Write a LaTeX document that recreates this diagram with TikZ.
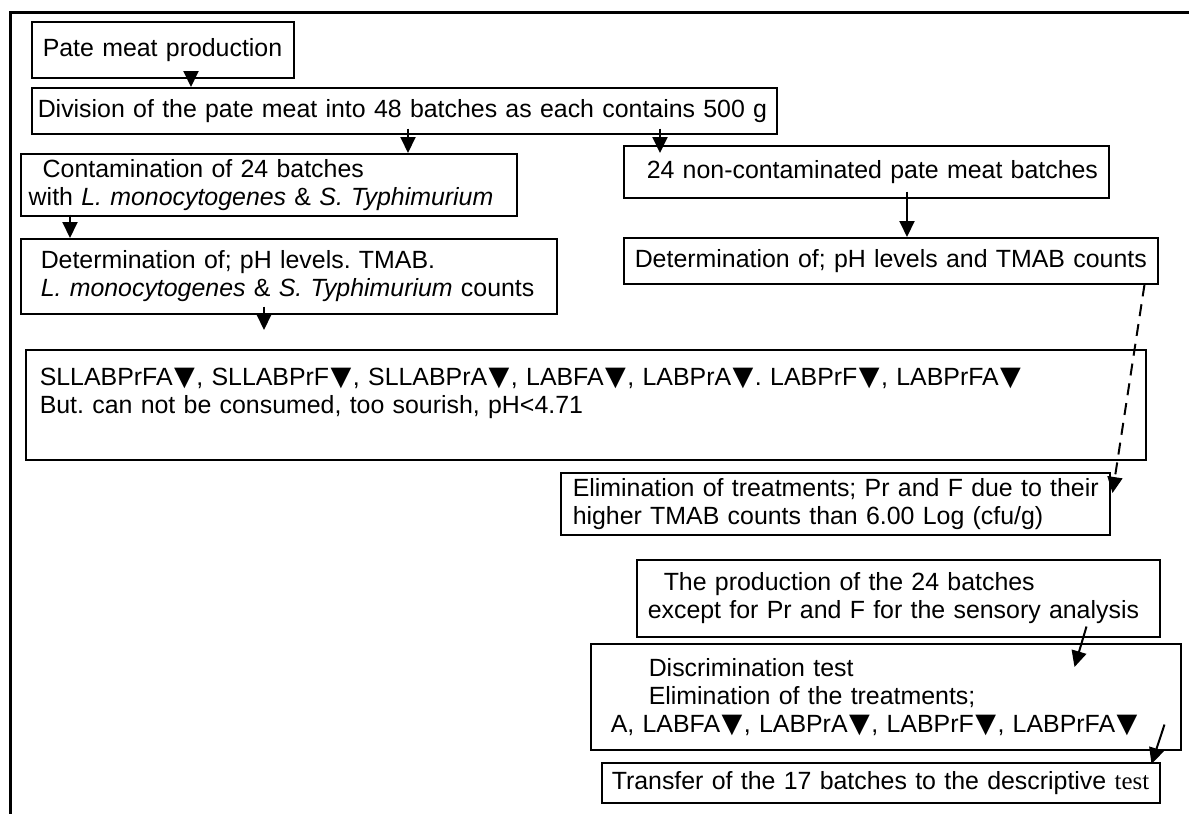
\documentclass[tikz,border=0pt]{standalone}
\usepackage{fontspec}
\setmainfont{Liberation Sans}
\newfontfamily\serifft{Liberation Serif}
\newfontfamily\symft{DejaVu Sans}
\newcommand\tridown{\hspace{0.06em}{\symft\fontsize{13.5}{14}\selectfont ▼}\hspace{0.06em}}
\usetikzlibrary{arrows.meta}

\tikzset{
  flowbox/.style={draw, line width=0.75pt, anchor=north west, inner xsep=3pt, inner ysep=0pt,
    align=left, font=\fontsize{12.45}{14}\selectfont\frenchspacing},
  flowarrow/.style={line width=1pt, -{Triangle[length=8pt,width=7.5pt]}},
}

\begin{document}
\begin{tikzpicture}[x=0.5pt,y=-0.5pt]
\useasboundingbox (0,0) rectangle (1189,814);
\draw[line width=1.5pt] (1189,12) -- (10,12) -- (10,814);

\node[flowbox, text width=125pt, minimum height=28pt] (pate) at (31,21) {\mbox{\hspace*{2.5pt}Pate meat production}};
\node[flowbox, text width=366.5pt, minimum height=23pt] (divis) at (31,87) {\mbox{Division of the pate meat into 48 batches as each contains 500 g}};
\node[flowbox, text width=242pt, minimum height=31pt] (contam) at (20,153) {\mbox{\hspace*{8pt}Contamination of 24 batches}\\\mbox{\hspace*{1pt}with \textit{L. monocytogenes} \& \textit{S. Typhimurium}}};
\node[flowbox, text width=236.5pt, minimum height=26pt] (noncon) at (623,145) {\mbox{\hspace*{8.5pt}24 non-contaminated pate meat batches}};
\node[flowbox, text width=262pt, minimum height=37.5pt] (detL) at (20,238) {\mbox{\hspace*{7pt}Determination of; pH levels. TMAB.}\\\mbox{\hspace*{7pt}\textit{L. monocytogenes} \& \textit{S. Typhimurium} counts}};
\node[flowbox, text width=261pt, minimum height=23pt] (detR) at (623,237) {\mbox{\hspace*{2.5pt}Determination of; pH levels and TMAB counts}};
\node[flowbox, text width=554pt, minimum height=55pt] (big) at (25,349) {\mbox{\hspace*{4pt}SLLABPrFA\tridown, SLLABPrF\tridown, SLLABPrA\tridown, LABFA\tridown, LABPrA\tridown. LABPrF\tridown, LABPrFA\tridown}\\\mbox{\hspace*{4pt}But. can not be consumed, too sourish, pH<4.71}\\ \mbox{}};
\node[flowbox, text width=268.5pt, minimum height=31pt] (elim) at (560,472) {\mbox{\hspace*{3pt}Elimination of treatments; Pr and F due to their}\\\mbox{\hspace*{3pt}higher TMAB counts than 6.00 Log (cfu/g)}};
\node[flowbox, text width=255.5pt, minimum height=38.5pt] (prod) at (636,559) {\mbox{\hspace*{10.5pt}The production of the 24 batches}\\\mbox{\hspace*{2.5pt}except for Pr and F for the sensory analysis}};
\node[flowbox, text width=289pt, minimum height=53pt] (discr) at (590,643) {\mbox{\hspace*{26pt}Discrimination test}\\\mbox{\hspace*{26pt}Elimination of the treatments;}\\\mbox{\hspace*{7pt}A, LABFA\tridown, LABPrA\tridown, LABPrF\tridown, LABPrFA\tridown}};
\node[flowbox, text width=273pt, minimum height=20pt] (trans) at (601,762) {\mbox{\hspace*{2pt}Transfer of the 17 batches to the descriptive {\serifft test}}};

% arrows
\coordinate (s1) at ([xshift=80pt]pate.south west);
\draw[flowarrow] (s1) -- (s1 |- divis.north);
\coordinate (s2) at ([xshift=188.5pt,yshift=3pt]divis.south west);
\draw[flowarrow] (s2) -- (s2 |- contam.north);
\coordinate (s3) at ([xshift=314.5pt,yshift=3pt]divis.south west);
\draw[flowarrow] (s3) -- ([yshift=-4pt]s3 |- noncon.north);
\coordinate (s4) at ([xshift=25pt,yshift=1pt]contam.south west);
\draw[flowarrow] (s4) -- (s4 |- detL.north);
\coordinate (s5) at ([xshift=142pt,yshift=3.5pt]noncon.south west);
\draw[flowarrow] (s5) -- (s5 |- detR.north);
\coordinate (s6) at ([xshift=122pt,yshift=4pt]detL.south west);
\draw[flowarrow] (s6) -- ([yshift=9.5pt]s6 |- big.north);
\draw[flowarrow, dash pattern=on 6pt off 4pt] ([xshift=-7pt]detR.south east) -- ([xshift=1pt,yshift=-10.5pt]elim.north east);
\draw[flowarrow] ([xshift=-37pt,yshift=5.5pt]prod.south east) -- ([xshift=-53.5pt,yshift=-12pt]discr.north east);
\draw[flowarrow] ([xshift=-8.5pt,yshift=13pt]discr.south east) -- ([xshift=-4.5pt,yshift=-1pt]trans.north east);
\end{tikzpicture}
\end{document}
